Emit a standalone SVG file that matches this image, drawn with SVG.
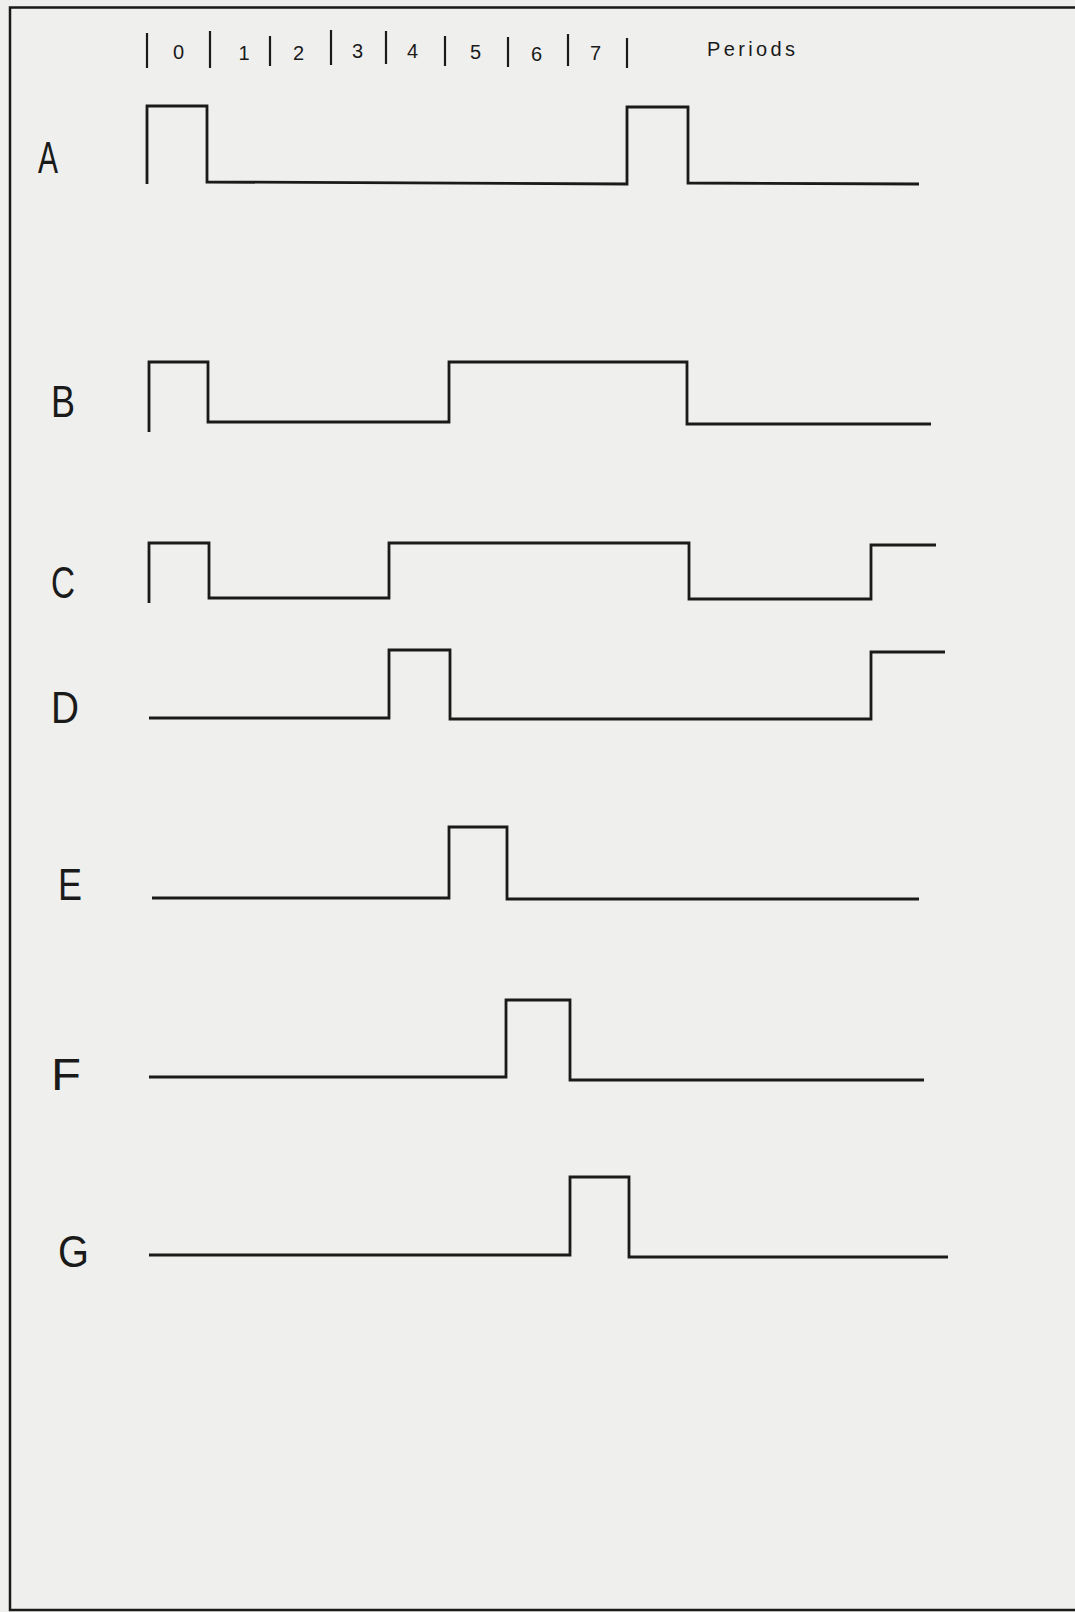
<svg xmlns="http://www.w3.org/2000/svg" width="1075" height="1612" viewBox="0 0 1075 1612">
<style>
.wave{fill:none;stroke:#1a1a1a;stroke-width:2.8;stroke-linejoin:miter;stroke-linecap:butt}
.frame{fill:none;stroke:#1a1a1a;stroke-width:2.5}
.tick{stroke:#1a1a1a;stroke-width:2.2}
.lbl{font-family:"Liberation Sans","DejaVu Sans",sans-serif;font-size:44px;fill:#1a1a1a}
.num{font-family:"Liberation Sans","DejaVu Sans",sans-serif;font-size:20px;fill:#1a1a1a}
.hdr{font-family:"Liberation Sans","DejaVu Sans",sans-serif;font-size:20px;fill:#1a1a1a}
</style>
<rect x="0" y="0" width="1075" height="1612" fill="#efefed"/>
<g id="frame">
<polyline class="frame" points="1075,7.5 10,7.5 10,1610 1075,1610"/>
</g>
<g id="header">
<g class="tick">
<line x1="147" y1="33" x2="147" y2="68"/>
<line x1="210" y1="31" x2="210" y2="68"/>
<line x1="270" y1="36" x2="270" y2="66"/>
<line x1="331" y1="30" x2="331" y2="65"/>
<line x1="386" y1="31" x2="386" y2="64"/>
<line x1="445" y1="36" x2="445" y2="66"/>
<line x1="508" y1="37" x2="508" y2="67"/>
<line x1="568" y1="34" x2="568" y2="66"/>
<line x1="627" y1="38" x2="627" y2="68"/>
</g>
<text class="num" x="178.5" y="59" text-anchor="middle">0</text>
<text class="num" x="244" y="60" text-anchor="middle">1</text>
<text class="num" x="298.5" y="60" text-anchor="middle">2</text>
<text class="num" x="357.5" y="58" text-anchor="middle">3</text>
<text class="num" x="412.5" y="58" text-anchor="middle">4</text>
<text class="num" x="475.5" y="59" text-anchor="middle">5</text>
<text class="num" x="536.5" y="61" text-anchor="middle">6</text>
<text class="num" x="595.5" y="60" text-anchor="middle">7</text>
<text class="hdr" x="707" y="56" textLength="88" lengthAdjust="spacing">Periods</text>
</g>
<g id="labels">
<text id="lbl-A" class="lbl" x="38" y="173" textLength="20" lengthAdjust="spacingAndGlyphs">A</text>
<text id="lbl-B" class="lbl" x="51" y="417" textLength="24" lengthAdjust="spacingAndGlyphs">B</text>
<text id="lbl-C" class="lbl" x="51" y="598" textLength="24" lengthAdjust="spacingAndGlyphs">C</text>
<text id="lbl-D" class="lbl" x="51" y="723" textLength="28" lengthAdjust="spacingAndGlyphs">D</text>
<text id="lbl-E" class="lbl" x="58" y="900" textLength="24" lengthAdjust="spacingAndGlyphs">E</text>
<text id="lbl-F" class="lbl" x="51" y="1090" textLength="30" lengthAdjust="spacingAndGlyphs">F</text>
<text id="lbl-G" class="lbl" x="58" y="1267" textLength="31" lengthAdjust="spacingAndGlyphs">G</text>
</g>
<g id="waveforms">
<polyline id="wave-A" class="wave" points="147,184 147,106 207,106 207,182 627,184 627,107 688,107 688,183 919,184"/>
<polyline id="wave-B" class="wave" points="149,432 149,362 208,362 208,422 449,422 449,362 687,362 687,424 931,424"/>
<polyline id="wave-C" class="wave" points="149,603 149,543 209,543 209,598 389,598 389,543 689,543 689,599 871,599 871,545 936,545"/>
<polyline id="wave-D" class="wave" points="149,718 389,718 389,650 450,650 450,719 871,719 871,652 945,652"/>
<polyline id="wave-E" class="wave" points="152,898 449,898 449,827 507,827 507,899 919,899"/>
<polyline id="wave-F" class="wave" points="149,1077 506,1077 506,1000 570,1000 570,1080 924,1080"/>
<polyline id="wave-G" class="wave" points="149,1255 570,1255 570,1177 629,1177 629,1257 948,1257"/>
</g>
</svg>
